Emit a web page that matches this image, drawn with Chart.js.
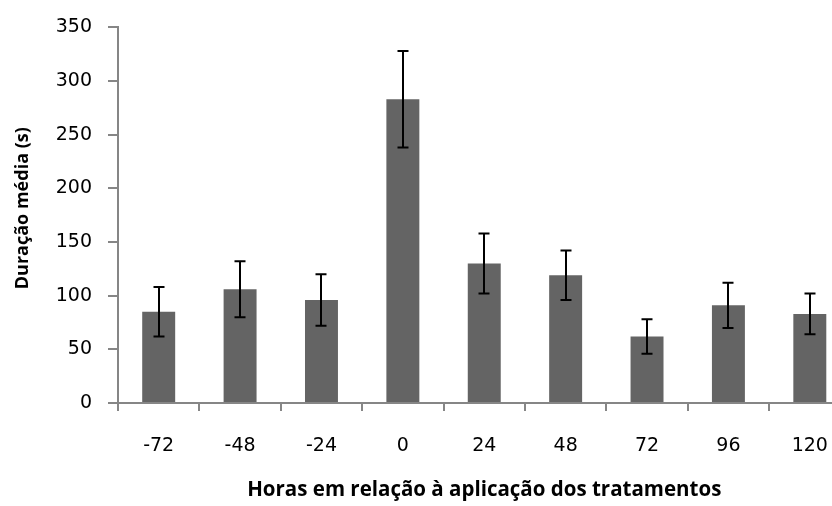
<!DOCTYPE html>
<html>
<head>
<meta charset="utf-8">
<script src="https://cdn.jsdelivr.net/npm/chart.js@4.4.0/dist/chart.umd.min.js"></script>
<style>
  body { margin: 0; overflow: hidden; background: #fff; }
</style>
</head>
<body>
<canvas id="chart" width="852" height="506"></canvas>
<script>
// horas em relacao a aplicacao
var labels = ['-72', '-48', '-24', '0', '24', '48', '72', '96', '120'];
// duracao media (s)
var means = [85, 106, 96, 283, 130, 119, 62, 91, 83];
// barras de erro (+/-)
var errs = [23, 26, 24, 45, 28, 23, 16, 21, 19];
var yTicks = [0, 50, 100, 150, 200, 250, 300, 350];

var axisGray = '#868686';

var errorBars = {
  id: 'errorBars',
  afterDatasetsDraw: function(chart) {
    var ctx = chart.ctx;
    var y = chart.scales.y;
    var meta = chart.getDatasetMeta(0);
    ctx.save();
    ctx.strokeStyle = '#000';
    ctx.lineWidth = 2;
    for (var i = 0; i < means.length; i++) {
      var x = Math.round(meta.data[i].x);
      var top = y.getPixelForValue(means[i] + errs[i]);
      var bot = y.getPixelForValue(means[i] - errs[i]);
      ctx.beginPath();
      ctx.moveTo(x, top);
      ctx.lineTo(x, bot);
      ctx.moveTo(x - 5.5, top);
      ctx.lineTo(x + 5.5, top);
      ctx.moveTo(x - 5.5, bot);
      ctx.lineTo(x + 5.5, bot);
      ctx.stroke();
    }
    ctx.restore();
  }
};

var chart = new Chart(document.getElementById('chart'), {
  type: 'bar',
  data: {
    labels: labels,
    datasets: [{
      data: means,
      backgroundColor: '#646464',
      borderWidth: 0,
      barPercentage: 0.405,
      categoryPercentage: 1
    }]
  },
  options: {
    responsive: false,
    animation: false,
    layout: { padding: { top: 23, left: 0, right: 1, bottom: 0 } },
    plugins: { legend: { display: false }, tooltip: { enabled: false } },
    scales: {
      x: {
        afterFit: function(scale) { scale.height = 103; },
        border: { color: axisGray, width: 2 },
        grid: { display: true, drawOnChartArea: false, offset: true, tickLength: 8, color: axisGray, lineWidth: 2 },
        ticks: { color: '#000', padding: 24, font: { family: 'DejaVu Sans', size: 19 } },
        title: {
          display: true,
          text: 'Horas em relação à aplicação dos tratamentos',
          color: '#000',
          padding: { top: 0, bottom: 4 },
          font: { family: 'Open Sans', size: 20.5, weight: 'bold' }
        }
      },
      y: {
        min: 0,
        max: 350,
        afterFit: function(scale) { scale.width = 118; },
        afterBuildTicks: function(scale) {
          scale.ticks = yTicks.map(function(v) { return { value: v }; });
        },
        border: { color: axisGray, width: 2 },
        grid: { display: true, drawOnChartArea: false, tickLength: 10, color: axisGray, lineWidth: 2 },
        ticks: { color: '#000', padding: 16, font: { family: 'DejaVu Sans', size: 19 } },
        title: {
          display: true,
          text: '   Duração média (s)',
          color: '#000',
          padding: { top: 12, bottom: 0 },
          font: { family: 'Open Sans', size: 18, weight: 'bold' }
        }
      }
    }
  },
  plugins: [errorBars]
});
</script>
</body>
</html>
